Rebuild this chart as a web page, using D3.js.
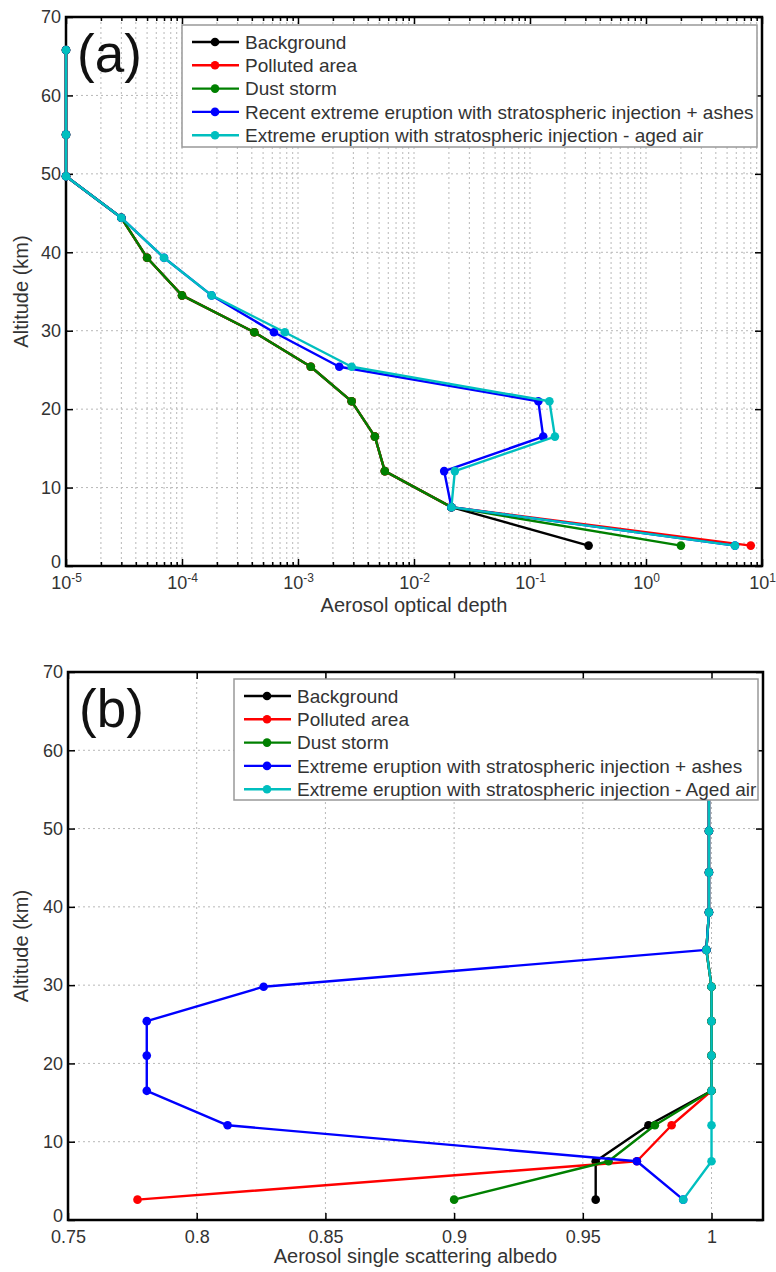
<!DOCTYPE html>
<html>
<head>
<meta charset="utf-8">
<script src="https://cdn.jsdelivr.net/npm/d3@7"></script>
<style>
  body { margin: 0; background: #fff; }
  svg text { font-family: "Liberation Sans", Arial, sans-serif; }
</style>
</head>
<body>
<svg id="chart" width="776" height="1272"></svg>
<script>
// altitude levels (km), bottom to top
const altitudes = [2.6, 7.5, 12.1, 16.5, 21, 25.4, 29.8, 34.5, 39.3, 44.4, 49.7, 55, 65.8];

// (a) aerosol optical depth
const aodBackground = [0.32, 0.021, 0.0056, 0.0046, 0.0029, 0.00129, 0.00042, 0.0001, 0.00005, 0.00003, 0.00001, 0.00001, 0.00001];
const aodPolluted = [8.0, 0.021, 0.0056, 0.0046, 0.0029, 0.00129, 0.00042, 0.0001, 0.00005, 0.00003, 0.00001, 0.00001, 0.00001];
const aodDust = [2.0, 0.021, 0.0056, 0.0046, 0.0029, 0.00129, 0.00042, 0.0001, 0.00005, 0.00003, 0.00001, 0.00001, 0.00001];
const aodRecentEruption = [5.85, 0.021, 0.0182, 0.13, 0.118, 0.00227, 0.00062, 0.00018, 0.00007, 0.00003, 0.00001, 0.00001, 0.00001];
const aodAgedEruption = [5.85, 0.021, 0.0225, 0.164, 0.147, 0.0029, 0.00077, 0.00018, 0.00007, 0.00003, 0.00001, 0.00001, 0.00001];

// (b) single scattering albedo
const ssaBackground = [0.955, 0.955, 0.9755, 1.0, 1.0, 1.0, 1.0, 0.998, 0.999, 0.999, 0.999, 0.999, 0.999];
const ssaPolluted = [0.777, 0.971, 0.9845, 1.0, 1.0, 1.0, 1.0, 0.998, 0.999, 0.999, 0.999, 0.999, 0.999];
const ssaDust = [0.9, 0.96, 0.978, 1.0, 1.0, 1.0, 1.0, 0.998, 0.999, 0.999, 0.999, 0.999, 0.999];
const ssaEruption = [0.989, 0.971, 0.812, 0.7806, 0.7806, 0.7806, 0.826, 0.998, 0.999, 0.999, 0.999, 0.999, 0.999];
const ssaAgedEruption = [0.989, 1.0, 1.0, 1.0, 1.0, 1.0, 1.0, 0.998, 0.999, 0.999, 0.999, 0.999, 0.999];

const namesA = ['Background', 'Polluted area', 'Dust storm',
  'Recent extreme eruption with stratospheric injection + ashes',
  'Extreme eruption with stratospheric injection - aged air'];
const namesB = ['Background', 'Polluted area', 'Dust storm',
  'Extreme eruption with stratospheric injection + ashes',
  'Extreme eruption with stratospheric injection - Aged air'];
const colors = ['#000000', '#ff0000', '#008000', '#0000ff', '#00bfbf'];

const altTicks = [0, 10, 20, 30, 40, 50, 60, 70];
const aodTicks = [1e-5, 1e-4, 1e-3, 1e-2, 1e-1, 1e0, 1e1];
const aodExponents = ['-5', '-4', '-3', '-2', '-1', '0', '1'];
const ssaTicks = [0.75, 0.8, 0.85, 0.9, 0.95, 1.0];
const ssaTickLabels = ['0.75', '0.8', '0.85', '0.9', '0.95', '1'];

const svg = d3.select('#chart');

function drawPanel(o) {
  const g = svg.append('g');
  const {x, y} = o;
  const [left, right] = x.range();
  const [bottom, top] = y.range();

  // dotted grid
  const grid = g.append('g')
    .attr('stroke', '#b8b8b8')
    .attr('stroke-width', 1)
    .attr('stroke-dasharray', '2,3');
  grid.selectAll('.gx').data(o.gridX).join('line')
    .attr('class', 'gx')
    .attr('x1', (d) => x(d)).attr('x2', (d) => x(d))
    .attr('y1', top).attr('y2', bottom);
  grid.selectAll('.gy').data(altTicks.slice(1, -1)).join('line')
    .attr('class', 'gy')
    .attr('x1', left).attr('x2', right)
    .attr('y1', (d) => y(d)).attr('y2', (d) => y(d));

  // axes, ticks pointing inward
  const noDomain = (a) => a.select('.domain').remove();
  const bottomAxis = g.append('g')
    .attr('transform', `translate(0,${bottom})`)
    .call(d3.axisBottom(x).tickValues(o.xTicks).tickSizeInner(-7).tickSizeOuter(0).tickPadding(10))
    .call(noDomain);
  g.append('g')
    .attr('transform', `translate(0,${top})`)
    .call(d3.axisTop(x).tickValues(o.xTicks).tickSizeInner(-7).tickSizeOuter(0).tickFormat(''))
    .call(noDomain);
  if (o.minorX) {
    g.append('g')
      .attr('transform', `translate(0,${bottom})`)
      .call(d3.axisBottom(x).tickValues(o.minorX).tickSizeInner(-4).tickSizeOuter(0).tickFormat(''))
      .call(noDomain);
    g.append('g')
      .attr('transform', `translate(0,${top})`)
      .call(d3.axisTop(x).tickValues(o.minorX).tickSizeInner(-4).tickSizeOuter(0).tickFormat(''))
      .call(noDomain);
  }
  const leftAxis = g.append('g')
    .attr('transform', `translate(${left},0)`)
    .call(d3.axisLeft(y).tickValues(altTicks).tickSizeInner(-7).tickSizeOuter(0).tickPadding(5))
    .call(noDomain);
  g.append('g')
    .attr('transform', `translate(${right},0)`)
    .call(d3.axisRight(y).tickValues(altTicks).tickSizeInner(-7).tickSizeOuter(0).tickFormat(''))
    .call(noDomain);

  g.selectAll('.tick line').attr('stroke', '#000').attr('stroke-width', 1.5);
  [bottomAxis, leftAxis].forEach((a) =>
    a.attr('font-size', 18).attr('font-family', null)
      .selectAll('text').attr('fill', '#333'));
  // lift the "0" label a little so it clears the x labels
  leftAxis.selectAll('.tick text').filter((d) => d === 0).attr('dy', '0.1em');

  if (o.xLabels) {
    bottomAxis.selectAll('.tick text').text((d, i) => o.xLabels[i]);
  } else {
    // powers of ten with superscript exponent
    bottomAxis.selectAll('.tick text').each(function (d, i) {
      const t = d3.select(this).text(null);
      t.append('tspan').text('10');
      t.append('tspan').attr('font-size', 12).attr('dy', '-0.6em').text(aodExponents[i]);
    });
  }

  g.append('rect')
    .attr('x', left).attr('y', top)
    .attr('width', right - left).attr('height', bottom - top)
    .attr('fill', 'none').attr('stroke', '#000').attr('stroke-width', 2.5);

  // series: line then markers, in legend order
  const line = d3.line().x((d) => x(d.v)).y((d) => y(d.alt));
  o.series.forEach((vals, i) => {
    const pts = vals.map((v, j) => ({v, alt: altitudes[j]}));
    g.append('path')
      .datum(pts)
      .attr('d', line)
      .attr('fill', 'none')
      .attr('stroke', colors[i])
      .attr('stroke-width', 2.4)
      .attr('stroke-linejoin', 'round');
    g.append('g').selectAll('circle').data(pts).join('circle')
      .attr('cx', (d) => x(d.v)).attr('cy', (d) => y(d.alt))
      .attr('r', 4.3).attr('fill', colors[i]);
  });

  // titles
  g.append('text')
    .attr('x', (left + right) / 2).attr('y', o.xTitleY)
    .attr('text-anchor', 'middle').attr('font-size', 20).attr('fill', '#333')
    .text(o.xTitle);
  g.append('text')
    .attr('transform', `translate(28,${(top + bottom) / 2}) rotate(-90)`)
    .attr('text-anchor', 'middle').attr('font-size', 20).attr('fill', '#333')
    .text('Altitude (km)');
  g.append('text')
    .attr('x', left + 11).attr('y', top + 55)
    .attr('font-size', 53).attr('fill', '#111')
    .text(o.tag);

  // legend
  const lg = o.legend;
  const leg = g.append('g');
  leg.append('rect')
    .attr('x', lg.x).attr('y', lg.y).attr('width', lg.w).attr('height', lg.h)
    .attr('fill', '#fff').attr('stroke', '#999').attr('stroke-width', 1.5);
  o.names.forEach((name, i) => {
    const ry = lg.y + 17 + i * 23.3;
    leg.append('line')
      .attr('x1', lg.x + 10).attr('x2', lg.x + 57).attr('y1', ry).attr('y2', ry)
      .attr('stroke', colors[i]).attr('stroke-width', 2.4);
    leg.append('circle').attr('cx', lg.x + 33).attr('cy', ry).attr('r', 4.3).attr('fill', colors[i]);
    leg.append('text')
      .attr('x', lg.x + 63).attr('y', ry).attr('dy', '0.35em')
      .attr('font-size', 19).attr('fill', '#333')
      .text(name);
  });
}

// panel (a)
const xA = d3.scaleLog().domain([1e-5, 10]).range([66, 762]);
const yA = d3.scaleLinear().domain([0, 70]).range([566, 17]);
const minorA = xA.ticks().filter((d) => Math.abs(Math.log10(d) - Math.round(Math.log10(d))) > 1e-6);
drawPanel({
  x: xA, y: yA,
  xTicks: aodTicks,
  minorX: minorA,
  gridX: xA.ticks().filter((d) => d > 1e-5 && d < 10),
  series: [aodBackground, aodPolluted, aodDust, aodRecentEruption, aodAgedEruption],
  names: namesA,
  tag: '(a)',
  xTitle: 'Aerosol optical depth',
  xTitleY: 612,
  legend: {x: 182, y: 25, w: 575, h: 122},
});

// panel (b)
const xB = d3.scaleLinear().domain([0.75, 1.02]).range([68, 763]);
const yB = d3.scaleLinear().domain([0, 70]).range([1220, 672]);
drawPanel({
  x: xB, y: yB,
  xTicks: ssaTicks,
  xLabels: ssaTickLabels,
  gridX: ssaTicks.slice(1),
  series: [ssaBackground, ssaPolluted, ssaDust, ssaEruption, ssaAgedEruption],
  names: namesB,
  tag: '(b)',
  xTitle: 'Aerosol single scattering albedo',
  xTitleY: 1263,
  legend: {x: 234, y: 679, w: 524, h: 121},
});
</script>
</body>
</html>
